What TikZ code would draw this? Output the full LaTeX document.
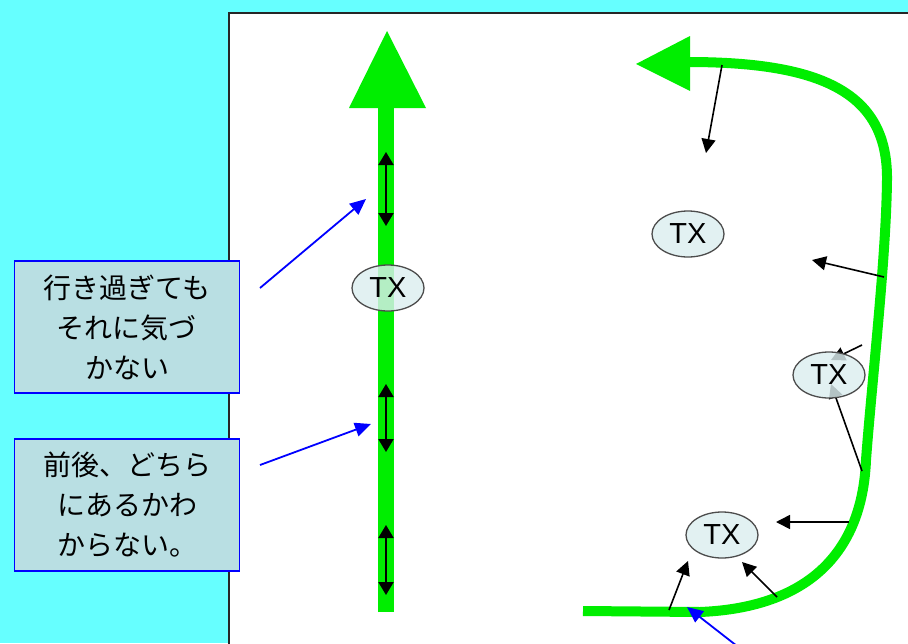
\documentclass[tikz,border=0pt]{standalone}
\usepackage{fontspec}
\setmainfont{Liberation Sans}
\newfontfamily\jp{Noto Sans CJK JP}
\usetikzlibrary{arrows.meta,shapes.geometric}
\definecolor{bgcyan}{HTML}{66FFFF}
\definecolor{boxfill}{HTML}{B9DFE3}
\definecolor{txfill}{HTML}{DCEEF0}
\definecolor{lime}{HTML}{00EE00}
\begin{document}
\begin{tikzpicture}[x=1pt,y=-1pt,
  note/.style={draw=blue, line width=1.6pt, fill=boxfill, minimum width=225pt, minimum height=132pt,
    align=center, font=\jp\fontsize{28}{40}\selectfont, inner sep=0pt},
  tx/.style={ellipse, draw=black!70, line width=1.3pt, fill=txfill, fill opacity=0.82, text opacity=1,
    minimum width=72pt, minimum height=46pt, inner sep=0pt, font=\fontsize{29}{29}\selectfont},
  blk/.style={-{Triangle[length=14pt,width=14pt]}, line width=1.6pt},
  dbl/.style={{Triangle[length=13pt,width=15pt]}-{Triangle[length=13pt,width=15pt]}, line width=2pt},
  blu/.style={-{Triangle[length=16pt,width=14pt]}, draw=blue, line width=1.8pt},
  greenline/.style={draw=lime, line join=round}
]
\useasboundingbox (0,0) rectangle (908,643);
\fill[bgcyan] (0,0) rectangle (908,643);
\fill[white] (229,13) rectangle (912,646);
\draw[black!85, line width=2pt] (229,646) -- (229,13) -- (912,13);

% left straight green arrow
\coordinate (lbot) at (386,612);
\coordinate (ltop) at (386,104);
\draw[greenline, line width=16pt] (lbot) -- (ltop);
\fill[lime] (349,108) -- (387,31) -- (426,108) -- cycle;

% double arrows on the shaft
\coordinate (d1a) at (386,152); \coordinate (d1b) at (386,226);
\coordinate (d2a) at (386,384); \coordinate (d2b) at (386,452);
\coordinate (d3a) at (386,525); \coordinate (d3b) at (386,595);
\draw[dbl] (d1a) -- (d1b);
\draw[dbl] (d2a) -- (d2b);
\draw[dbl] (d3a) -- (d3b);

\node[tx] (txl) at (388,288) {TX};

% notes
\node[note] (n1) at (127,327) {行き過ぎても\\それに気づ\\かない};
\node[note] (n2) at (127,505) {前後、どちら\\にあるかわ\\からない。};
\coordinate (b1s) at (260,288); \coordinate (b1e) at (366,199);
\coordinate (b2s) at (260,465); \coordinate (b2e) at (371,424);
\draw[blu] (b1s) -- (b1e);
\draw[blu] (b2s) -- (b2e);

% right curved green arrow
\coordinate (cs) at (583,611);
\coordinate (ce) at (688,62);
\draw[greenline, line width=10pt] (cs) -- (700,612) .. controls (800,608) and (862,560) .. (866,460)
  .. controls (872,380) and (886,260) .. (887,180) .. controls (888,95) and (826,62) .. (ce);
\fill[lime] (636,64) -- (690,36) -- (690,91) -- cycle;

% black arrows
\coordinate (a1s) at (722,65);  \coordinate (a1e) at (706,153);
\coordinate (a2s) at (884,277); \coordinate (a2e) at (812,260);
\coordinate (a3s) at (862,471); \coordinate (a3e) at (831,384);
\coordinate (a4s) at (862,345); \coordinate (a4e) at (831,360);
\coordinate (a5s) at (849,522); \coordinate (a5e) at (776,522);
\coordinate (a6s) at (777,597); \coordinate (a6e) at (742,562);
\coordinate (a7s) at (669,610); \coordinate (a7e) at (688,561);
\draw[blk] (a1s) -- (a1e);
\draw[blk] (a2s) -- (a2e);
\draw[blk] (a3s) -- (a3e);
\draw[blk] (a4s) -- (a4e);
\draw[blk] (a5s) -- (a5e);
\draw[blk] (a6s) -- (a6e);
\draw[blk] (a7s) -- (a7e);

\coordinate (b3s) at (737,646); \coordinate (b3e) at (687,607);
\draw[blu] (b3s) -- (b3e);

\node[tx] (tx1) at (688,234) {TX};
\node[tx] (tx2) at (829,375) {TX};
\node[tx] (tx3) at (722,535) {TX};
\end{tikzpicture}
\end{document}
